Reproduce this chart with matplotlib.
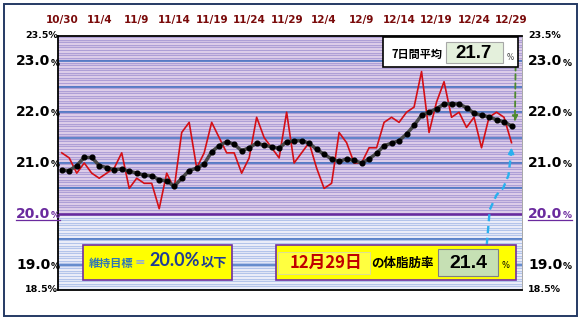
import numpy as np
import matplotlib
matplotlib.use("Agg")
import matplotlib.pyplot as plt
from matplotlib.patches import Rectangle
from matplotlib.lines import Line2D

# daily body fat (%) 10/30 .. 12/29
body_fat = [21.2, 21.1, 20.8, 21.0, 20.8, 20.7, 20.8, 20.9, 21.2, 20.5,
            20.7, 20.6, 20.6, 20.1, 20.8, 20.5, 21.6, 21.8, 20.9, 21.2,
            21.8, 21.5, 21.2, 21.2, 20.8, 21.1, 21.9, 21.5, 21.3, 21.1,
            22.0, 21.0, 21.2, 21.4, 20.9, 20.5, 20.6, 21.6, 21.4, 21.0,
            21.0, 21.3, 21.3, 21.8, 21.9, 21.8, 22.0, 22.1, 22.8, 21.6,
            22.2, 22.6, 21.9, 22.0, 21.7, 21.9, 21.3, 21.9, 22.0, 21.9,
            21.4]
# 7-day average
avg7 = [20.86, 20.85, 20.95, 21.11, 21.11, 20.95, 20.91, 20.87, 20.88, 20.84,
        20.80, 20.76, 20.75, 20.67, 20.65, 20.54, 20.70, 20.85, 20.90, 20.98,
        21.22, 21.34, 21.42, 21.37, 21.24, 21.30, 21.39, 21.35, 21.32, 21.29,
        21.42, 21.44, 21.44, 21.39, 21.27, 21.17, 21.08, 21.03, 21.08, 21.05,
        21.00, 21.08, 21.19, 21.34, 21.39, 21.44, 21.57, 21.74, 21.94, 22.00,
        22.07, 22.16, 22.17, 22.16, 22.09, 21.98, 21.94, 21.91, 21.85, 21.81,
        21.73]
date_labels = ["10/30", "11/4", "11/9", "11/14", "11/19", "11/24", "11/29",
               "12/4", "12/9", "12/14", "12/19", "12/24", "12/29"]
big_ticks = [23.0, 22.0, 21.0, 20.0, 19.0]
small_ticks = [23.5, 18.5]
goal = 20.0
today_label = "12月29日"
today_value = "21.4"
avg_value = "21.7"

W, H = 586, 318
CJK = ["Noto Sans CJK JP", "DejaVu Sans"]
NARROW = ["Liberation Sans Narrow", "Liberation Sans", "DejaVu Sans"]

fig = plt.figure(figsize=(W / 100, H / 100), dpi=100)


def fx(x):
    return x / W


def fy(y):
    return 1 - y / H


def box(x0, y0, x1, y1, fc, ec, lw, z=5):
    fig.add_artist(Rectangle((fx(x0), fy(y1)), fx(x1) - fx(x0), fy(y0) - fy(y1),
                             transform=fig.transFigure, fc=fc, ec=ec, lw=lw, zorder=z))


ax = fig.add_axes([fx(58), fy(290), fx(522) - fx(58), fy(36) - fy(290)])
days = np.arange(len(body_fat))
ax.set_xlim(-0.5, 61.4)
ax.set_ylim(18.5, 23.5)

# striped background
ax.axhspan(goal, 23.5, color="#eadaf0", zorder=0)
ax.axhspan(18.5, goal, color="#f8f6fc", zorder=0)
for v in np.arange(18.525, 23.5, 0.05):
    if v > goal:
        ax.axhline(v, color="#ae9fd6", lw=1.05, zorder=0.5)
    else:
        ax.axhline(v, color="#b3c4ea", lw=1.0, zorder=0.5)
for v in np.arange(19.0, 23.5, 0.5):
    if abs(v - goal) > 1e-6:
        ax.axhline(v, color="#3f6fc0", lw=1.1, zorder=1)
ax.axhline(goal, color="#6a2a9e", lw=1.8, zorder=1.5)

ax.plot(days, body_fat, color="#d40f16", lw=1.2, zorder=3)
ax.plot(days, avg7, color="#474747", lw=2.5, zorder=4,
        marker="o", ms=3.4, mfc="black", mec="black")

ax.set_yticks([])
ax.set_xticks(days[::5])
ax.set_xticklabels(date_labels, fontsize=7.5, fontweight="bold", color="#7a0a0a")
ax.xaxis.tick_top()
ax.tick_params(axis="x", length=0, pad=8)
for s in ["left", "bottom", "top"]:
    ax.spines[s].set_color("black")
    ax.spines[s].set_linewidth(1.3)
ax.spines["right"].set_color("#9a9a9a")
ax.spines["right"].set_linewidth(0.6)

# y labels on both sides
ytr = ax.get_yaxis_transform()
lab_left = -7.5 / 464
lab_right = 1 + 6 / 464
underline = []
for v in small_ticks:
    ax.text(lab_left + 7.5 / 464, v, f"{v:.1f}%", transform=ytr, ha="right", va="center",
            fontsize=6.8, fontweight="bold", clip_on=False)
    ax.text(lab_right, v, f"{v:.1f}%", transform=ytr, ha="left", va="center",
            fontsize=6.8, fontweight="bold", clip_on=False)
for v in big_ticks:
    col = "#6a2a9e" if v == goal else "black"
    for xpos, ha in [(lab_left, "right"), (lab_right, "left")]:
        t = ax.text(xpos, v, f"{v:.1f}", transform=ytr, ha=ha, va="center",
                    fontsize=10, fontweight="bold", color=col, clip_on=False)
        p = ax.annotate("%", xy=(1, 0), xycoords=t, xytext=(0.3, 0.6),
                        textcoords="offset points", ha="left", va="bottom",
                        fontsize=6.5, fontweight="bold", color=col)
        if v == goal:
            underline.append((t, p))

# 7-day average box
box(383, 37, 518, 67, "white", "black", 1.2)
box(446, 42, 503, 63, "#e4f0dc", "#a8a8a8", 0.8, z=5.1)
fig.text(fx(417), fy(54), "7日間平均", family=CJK, fontsize=8, fontweight="bold",
         ha="center", va="center", zorder=6)
fig.text(fx(474), fy(53), avg_value, family=NARROW, fontsize=13.5, fontweight="bold",
         ha="center", va="center", zorder=6)
fig.text(fx(510), fy(57), "%", fontsize=5.5, ha="center", va="center", zorder=6,
         color="#404040")

# goal box
box(83, 245, 232, 280, "#ffff00", "#7030a0", 1.2)
fig.text(fx(111), fy(263), "維持目標", family=CJK, fontsize=8, fontweight="bold",
         color="#2e75b6", ha="center", va="center", zorder=6)
fig.text(fx(140), fy(262), "=", fontsize=9, fontweight="bold", color="#8faadc",
         ha="center", va="center", zorder=6)
fig.text(fx(175), fy(261), f"{goal:.1f}%", fontsize=13, color="#1f3c96",
         family=["Lato", "DejaVu Sans"], fontweight="bold", ha="center", va="center", zorder=6)
fig.text(fx(214), fy(263), "以下", family=CJK, fontsize=9.5, fontweight="bold",
         color="#1f3c96", ha="center", va="center", zorder=6)

# today box
box(276, 245, 516, 280, "#ffff00", "#7030a0", 1.2)
box(278, 252, 370, 274, "#ffff40", "#d8d8a8", 0.6, z=5.1)
fig.text(fx(326), fy(263), today_label, family=CJK, fontsize=12, fontweight="bold",
         color="#c00000", ha="center", va="center", zorder=6)
fig.text(fx(402), fy(263), "の体脂肪率", family=CJK, fontsize=9, fontweight="bold",
         ha="center", va="center", zorder=6)
box(438, 249, 498, 276, "#c6e0b4", "#808080", 0.8, z=5.1)
fig.text(fx(468), fy(263), today_value, family=NARROW, fontsize=14, fontweight="bold",
         ha="center", va="center", zorder=6)
fig.text(fx(506), fy(265), "%", fontsize=6, ha="center", va="center", zorder=6)

# arrows
ax.annotate("", xy=(60.45, 21.76), xytext=(60.55, 22.98),
            arrowprops=dict(arrowstyle="-|>", color="#4e8a2e", lw=1.3, ls=(0, (3, 2)),
                            mutation_scale=8), zorder=6, annotation_clip=False)
cx = [56.7, 57.1, 58.0, 58.9, 59.6, 59.95]
cy = [19.39, 20.08, 20.37, 20.51, 20.76, 21.2]
ax.plot(cx, cy, color="#2ab0ee", lw=1.7, ls=(0, (3, 2)), zorder=6, clip_on=False)
ax.annotate("", xy=(60.0, 21.36), xytext=(59.95, 21.15),
            arrowprops=dict(arrowstyle="-|>", color="#2ab0ee", lw=1.5, mutation_scale=8),
            zorder=6)

# outer frame
fig.add_artist(Rectangle((fx(4), fy(316)), fx(577) - fx(4), fy(4) - fy(316),
                         transform=fig.transFigure, fc="none", ec="#253a64", lw=1.4))

fig.canvas.draw()
r = fig.canvas.get_renderer()
for t, p in underline:
    b1 = t.get_window_extent(r)
    b2 = p.get_window_extent(r)
    x0, x1 = min(b1.x0, b2.x0), max(b1.x1, b2.x1)
    yy = b1.y0 + 1
    fig.add_artist(Line2D([x0 / W, x1 / W], [yy / H, yy / H], transform=fig.transFigure,
                          color="#6a2a9e", lw=0.9))

fig.savefig("out.png", dpi=100)
